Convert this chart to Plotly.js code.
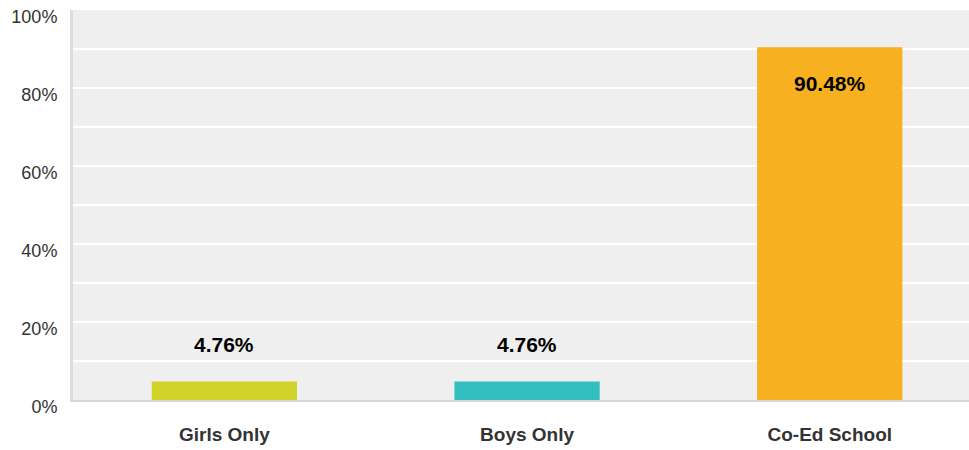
<!DOCTYPE html>
<html><head><meta charset="utf-8">
<script src="https://cdn.plot.ly/plotly-3.0.1.min.js"></script>
<style>html,body{margin:0;padding:0;background:#fff}#chart{width:969px;height:450px}</style>
</head><body><div id="chart"></div>
<script>
const categories = ["Girls Only", "Boys Only", "Co-Ed School"];
const percentages = [4.76, 4.76, 90.48];
const barColors = ["#d1d32a", "#33bec0", "#f7b01f"];
const yTickVals = [0, 20, 40, 60, 80, 100];
const yTickText = ["0%", "20%", "40%", "60%", "80%", "100%"];

const annotations = categories.map((c, i) => ({
  x: c, y: percentages[i], xref: 'x', yref: 'y',
  text: '<b>' + percentages[i].toFixed(2) + '%</b>',
  showarrow: false,
  yshift: percentages[i] > 50 ? -36 : 37,
  font: {family: 'Liberation Sans, Arial, sans-serif', size: 21, color: '#000'}
}));

Plotly.newPlot('chart', [{
  type: 'bar', x: categories, y: percentages,
  marker: {color: barColors}, width: 0.48, hoverinfo: 'none'
}], {
  width: 969, height: 450,
  margin: {l: 73, r: 0, t: 10, b: 50},
  paper_bgcolor: '#ffffff', plot_bgcolor: '#efefef',
  showlegend: false,
  xaxis: {
    range: [-0.5, 2.46], fixedrange: true,
    showline: true, linecolor: '#d6d6d6', linewidth: 2,
    ticks: 'outside', ticklen: 16, tickcolor: 'rgba(0,0,0,0)',
    tickfont: {family: 'Liberation Sans, Arial, sans-serif', size: 19, color: '#333', weight: 'bold'},
    showgrid: false, zeroline: false
  },
  yaxis: {
    range: [0, 100], fixedrange: true,
    tickvals: yTickVals, ticktext: yTickText,
    showline: true, linecolor: '#dcdcdc', linewidth: 3,
    ticks: 'outside', ticklen: 9, tickcolor: 'rgba(0,0,0,0)',
    ticklabelshift: 7,
    tickfont: {family: 'Liberation Sans, Arial, sans-serif', size: 18, color: '#333'},
    showgrid: true, gridcolor: '#ffffff', gridwidth: 2,
    minor: {dtick: 10, showgrid: true, gridcolor: '#ffffff', gridwidth: 2},
    zeroline: false
  },
  annotations: annotations
}, {displayModeBar: false, staticPlot: true});
</script></body></html>
